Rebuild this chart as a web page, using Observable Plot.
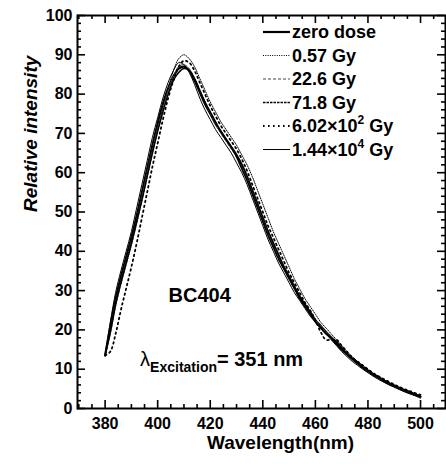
<!DOCTYPE html>
<html><head><meta charset="utf-8">
<script src="https://cdn.jsdelivr.net/npm/d3@7"></script>
<script src="https://cdn.jsdelivr.net/npm/@observablehq/plot@0.6"></script>
<style>body{margin:0;background:#fff}svg{display:block}</style>
</head><body><div id="chart"></div>
<script>
const wavelengths = [380,382,384,386,388,390,392,394,396,398,400,402,404,406,408,410,412,414,416,418,420,422,424,426,428,430,432,434,436,438,440,442,444,446,448,450,452,454,456,458,460,462,464,466,468,470,472,474,476,478,480,482,484,486,488,490,492,494,496,498,500];
const zeroDose = [13.5,21,28,33.5,38.5,43.5,49,55,61,67,72.5,77.5,81.5,84.5,86.5,87,86,83.5,80.5,77.5,75,72.5,70.5,68.5,66.5,64.5,62,59,55.5,52,48.5,45,42,39,36,33.5,31,28.5,26.5,24.5,22.5,21,19.5,18,16.5,15,13.8,12.6,11.5,10.4,9.5,8.6,7.8,7,6.3,5.7,5.1,4.5,4,3.5,3];
const dose057 = [13.5,19,26,31.5,36.5,41.5,47,53,59,65,71,76.5,81.5,86,89,90,89,87,84,81,78,75.5,73,71,69,67,64.5,62,59,55.5,52,48.5,45,42,39,36,33,30.5,28,26,24,22,20.5,19,17.5,16,14.5,13.2,12,11,10,9,8.2,7.4,6.6,6,5.4,4.8,4.3,3.8,3.3];
const dose226 = [13.5,20,27,32.5,37.5,42.5,48,54,60,66,71.5,76.5,81,84.5,87,87.5,86.5,84,81,78,75,72.5,70,68,66,64,61.5,58.5,55,51.5,48,44.5,41.5,38.5,35.5,33,30.5,28,26,24,22.5,21,19.5,18.5,17,15.5,14,12.8,11.7,10.6,9.6,8.7,7.9,7.1,6.4,5.8,5.2,4.6,4.1,3.6,3.1];
const dose718 = [13.5,19.5,26.5,32,37,42,47.5,53,59,65,70.5,75.5,80,83.5,85.5,86.5,86,84,81,78,75.5,73,70.5,68.5,66.5,64,61,58,54.5,51,47.5,44,41,38,35.5,33,30.5,28,26,24,22,20.5,19,18,17,15.5,14,12.8,11.6,10.6,9.7,8.8,8,7.2,6.5,5.9,5.3,4.7,4.2,3.6,3];
const dose602 = [13.5,14.5,19,25,30.5,36,42,48.5,55,61.5,67.5,73.5,79,83.5,87,88.5,88,86,83,80,77,74.5,72,70,68,66,63.5,60.5,57,53.5,50,46.5,43.5,40.5,37.5,34.5,32,29.5,27,25,22.5,19.5,17.5,17.5,17.5,16,14.5,13,12,11,10,9,8.2,7.5,6.8,6.1,5.5,4.9,4.4,3.9,3.5];
const dose144 = [13.5,22,29.5,35,40,45,51,57,63,69,74,79,83,86,88,87.5,85.5,82.5,79,76,73.5,71,69,67,65,62.5,60,57,53.5,50,46.5,43,40,37,34.5,32,29.5,27.5,25.5,23.5,22,20.5,19,17.5,16,14.5,13.2,12,11,10,9.1,8.2,7.4,6.7,6,5.4,4.8,4.2,3.7,3.2,2.6];

const seriesLabels = ["zero dose","0.57 Gy","22.6 Gy","71.8 Gy","6.02×10|2| Gy","1.44×10|4| Gy"];
const seriesValues = [zeroDose, dose057, dose226, dose718, dose602, dose144];

const xMajorTicks = [380,400,420,440,460,480,500];
const xMinorTicks = [370,375,385,390,395,405,410,415,425,430,435,445,450,455,465,470,475,485,490,495,505];
const yMajorTicks = [0,10,20,30,40,50,60,70,80,90,100];
const yMinorTicks = [2,4,6,8,12,14,16,18,22,24,26,28,32,34,36,38,42,44,46,48,52,54,56,58,62,64,66,68,72,74,76,78,82,84,86,88,92,94,96,98];

const xTitle = "Wavelength(nm)";
const yTitle = "Relative intensity";
const sampleLabel = "BC404";
const samplePos = {w: 416, v: 27};
const excitationPos = {w: 393.5, v: 10.6};
const excitationText = ["λ", "Excitation", "= 351 nm"];

// styles (separate from data)
const styles = [
  {strokeWidth: 2.2, dash: null},
  {strokeWidth: 1, dash: "1,1.3"},
  {strokeWidth: 1, dash: "3,2", stroke: "#444"},
  {strokeWidth: 1.6, dash: "2.5,1"},
  {strokeWidth: 1.8, dash: "1.6,3.4"},
  {strokeWidth: 1, dash: null}
];

const W = 446, H = 464;
const mL = 77, mR = 1, mT = 15, mB = 56;
const fw = W - mL - mR, fh = H - mT - mB;

const rows = seriesLabels.map((name, i) => wavelengths.map((w, j) => ({w, v: seriesValues[i][j], name})));

const font = "'Liberation Sans', Arial, Helvetica, sans-serif";

const chart = Plot.plot({
  width: W, height: H,
  marginLeft: mL, marginRight: mR, marginTop: mT, marginBottom: mB,
  style: {fontFamily: font, fontWeight: "bold", fontSize: "16px", color: "#000", background: "#fff"},
  x: {domain: [369.5, 509.5]},
  y: {domain: [0, 100]},
  marks: [
    ...rows.map((r, i) => Plot.line(r, {x: "w", y: "v", stroke: styles[i].stroke || "#000", strokeWidth: styles[i].strokeWidth, strokeDasharray: styles[i].dash, curve: "catmull-rom"})),
    Plot.ruleX(xMajorTicks, {x: d => d, insetTop: fh - 8, strokeWidth: 1.6}),
    Plot.ruleX(xMajorTicks, {x: d => d, insetBottom: fh - 8, strokeWidth: 1.6}),
    Plot.ruleX(xMinorTicks, {x: d => d, insetTop: fh - 4, strokeWidth: 1.6}),
    Plot.ruleX(xMinorTicks, {x: d => d, insetBottom: fh - 4, strokeWidth: 1.6}),
    Plot.ruleY(yMajorTicks, {y: d => d, insetRight: fw - 8, strokeWidth: 1.6}),
    Plot.ruleY(yMajorTicks, {y: d => d, insetLeft: fw - 8, strokeWidth: 1.6}),
    Plot.ruleY(yMinorTicks, {y: d => d, insetRight: fw - 4, strokeWidth: 1.6}),
    Plot.ruleY(yMinorTicks, {y: d => d, insetLeft: fw - 4, strokeWidth: 1.6}),
    Plot.frame({stroke: "#000", strokeWidth: 2}),
    Plot.axisX(xMajorTicks, {tickSize: 0, tickPadding: 9, label: null, fontSize: 16, fontWeight: "bold"}),
    Plot.axisY(yMajorTicks, {tickSize: 0, tickPadding: 5, label: null, fontSize: 16, fontWeight: "bold"}),
    Plot.text([xTitle], {frameAnchor: "bottom", dy: 40, dx: 19, text: d => d, fontSize: 19, fontWeight: "bold"}),
    Plot.text([yTitle], {frameAnchor: "left", dx: -47, rotate: -90, text: d => d, fontSize: 19, fontWeight: "bold", fontStyle: "italic"}),
    Plot.text([sampleLabel], {x: samplePos.w, y: samplePos.v, text: d => d, fontSize: 20, fontWeight: "bold", lineAnchor: "bottom"})
  ]
});

document.getElementById("chart").appendChild(chart);

const svg = d3.select(chart);
const sx = chart.scale("x"), sy = chart.scale("y");

// excitation annotation
const ex = svg.append("text")
  .attr("x", sx.apply(excitationPos.w)).attr("y", sy.apply(excitationPos.v))
  .attr("text-anchor", "start")
  .attr("font-family", font).attr("fill", "#000");
ex.append("tspan").attr("font-size", 20).attr("font-weight", "normal").text(excitationText[0]);
ex.append("tspan").attr("font-size", 14).attr("font-weight", "bold").attr("dy", 6).text(excitationText[1]);
ex.append("tspan").attr("font-size", 20).attr("font-weight", "bold").attr("dy", -6).text(excitationText[2]);

// legend
const lg = svg.append("g").attr("font-family", font).attr("font-weight", "bold").attr("font-size", 18).attr("text-anchor", "start");
seriesLabels.forEach((lab, i) => {
  const base = 38 + i * 23.5;
  lg.append("line").attr("x1", 263).attr("x2", 290).attr("y1", base - 6).attr("y2", base - 6)
    .attr("stroke", styles[i].stroke || "#000").attr("stroke-width", styles[i].strokeWidth)
    .attr("stroke-dasharray", styles[i].dash);
  const t = lg.append("text").attr("x", 292).attr("y", base).attr("fill", "#000").attr("text-anchor", "start");
  const parts = lab.split("|");
  t.append("tspan").text(parts[0]);
  if (parts.length > 1) {
    t.append("tspan").attr("font-size", 12).attr("dy", -8).text(parts[1]);
    t.append("tspan").attr("dy", 8).text(parts[2]);
  }
});
</script>
</body></html>
